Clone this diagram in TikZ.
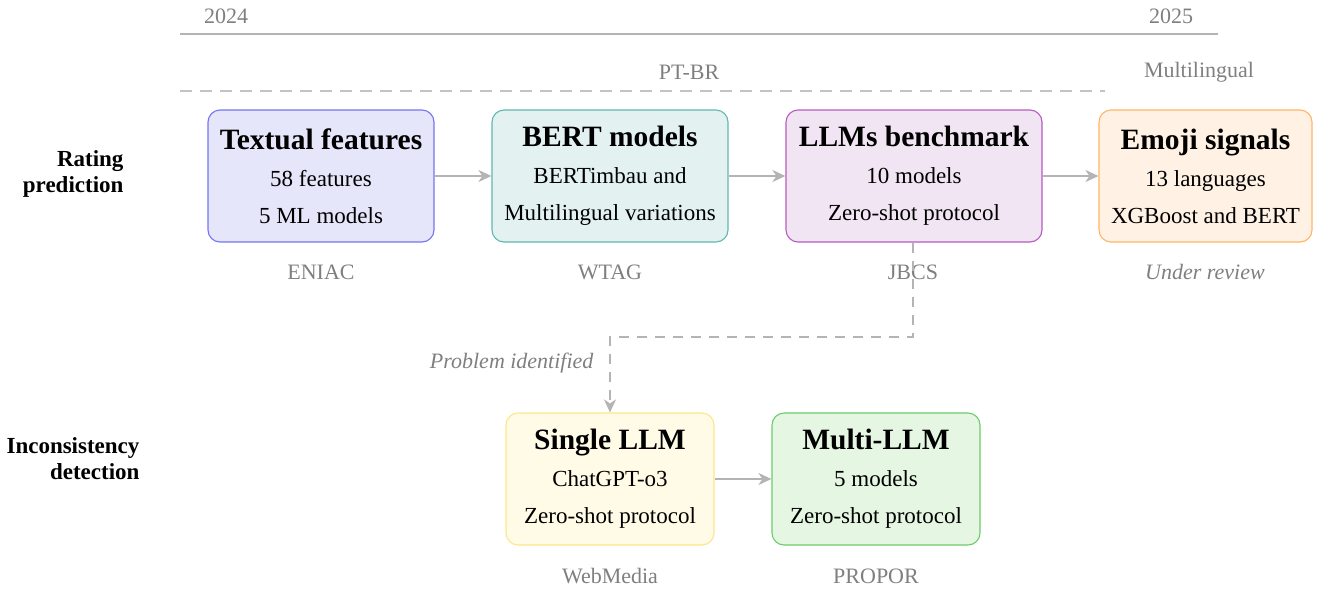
\documentclass[tikz,border=0pt]{standalone}
\usepackage{fontspec}
\setmainfont{Liberation Serif}
\usetikzlibrary{arrows.meta}
\definecolor{linegray}{HTML}{B4B4B4}
\definecolor{txtgray}{HTML}{7F7F7F}
\definecolor{tfFill}{HTML}{E6E6FA}\definecolor{tfDraw}{HTML}{7373F5}
\definecolor{btFill}{HTML}{E3F1F1}\definecolor{btDraw}{HTML}{5FB8B4}
\definecolor{lmFill}{HTML}{F2E5F3}\definecolor{lmDraw}{HTML}{B55CC2}
\definecolor{emFill}{HTML}{FFF1E3}\definecolor{emDraw}{HTML}{FFB465}
\definecolor{slFill}{HTML}{FFFBE6}\definecolor{slDraw}{HTML}{FDE68A}
\definecolor{mlFill}{HTML}{E5F6E3}\definecolor{mlDraw}{HTML}{6CCB6C}
\newcommand{\ttl}[1]{{\fontsize{29.5}{37}\selectfont\bfseries #1}}
\tikzset{
  x=1pt, y=1pt,
  stagebox/.style={draw, line width=1.1pt, rounded corners=12pt, minimum height=132pt,
    inner sep=0pt, align=center, font=\fontsize{23}{37}\selectfont},
  arr/.style={draw=linegray, line width=2.3pt, -{Stealth[length=13pt,width=12pt,inset=4pt]}},
  darr/.style={draw=linegray, line width=2.6pt, dash pattern=on 10pt off 8pt, -{Stealth[length=13pt,width=12pt,inset=4pt]}},
  venue/.style={text=txtgray, font=\fontsize{22}{26}\selectfont},
  rowlabel/.style={font=\fontsize{23}{26}\selectfont\bfseries, align=right, anchor=east}
}
\begin{document}
\begin{tikzpicture}
\useasboundingbox (0,0) rectangle (1317,-590);
% timeline
\coordinate (tl0) at (180,-34);
\coordinate (tl1) at (1218,-34);
\draw[linegray, line width=2.8pt] (tl0) -- (tl1);
\node[venue] (y2024) at (226,-16) {2024};
\node[venue] (y2025) at (1171,-16) {2025};
\coordinate (dl0) at (180,-91);
\coordinate (dl1) at (1105,-91);
\draw[linegray!80, line width=1.5pt, dash pattern=on 12pt off 8pt] (dl0) -- (dl1);
\node[venue] (ptbr) at (689,-72) {PT-BR};
\node[venue] (multi) at (1199,-72) {Multilingual};
% row labels
\node[rowlabel] (rp) at (127,-174) {Rating\\prediction};
\node[rowlabel] (id) at (143,-459) {Inconsistency\\detection};
% boxes
\node[stagebox, fill=tfFill, draw=tfDraw, minimum width=226pt] (tf) at (321,-176)
  {\ttl{Textual features}\\58 features\\5 ML models};
\node[stagebox, fill=btFill, draw=btDraw, minimum width=236pt] (bert) at (610,-176)
  {\ttl{BERT models}\\BERTimbau and\\Multilingual variations};
\node[stagebox, fill=lmFill, draw=lmDraw, minimum width=256pt] (llm) at (914,-176)
  {\ttl{LLMs benchmark}\\10 models\\Zero-shot protocol};
\node[stagebox, fill=emFill, draw=emDraw, minimum width=213pt] (emoji) at (1205.5,-176)
  {\ttl{Emoji signals}\\13 languages\\XGBoost and BERT};
\node[stagebox, fill=slFill, draw=slDraw, minimum width=208pt] (single) at (610,-479)
  {\ttl{Single LLM}\\ChatGPT-o3\\Zero-shot protocol};
\node[stagebox, fill=mlFill, draw=mlDraw, minimum width=208pt] (multillm) at (876,-479)
  {\ttl{Multi-LLM}\\5 models\\Zero-shot protocol};
% venues
\node[venue] (eniac) at (321,-272) {ENIAC};
\node[venue] (wtag) at (610,-272) {WTAG};
\node[venue] (jbcs) at (913,-272) {JBCS};
\node[venue, font=\fontsize{22}{26}\selectfont\itshape] (review) at (1205,-272) {Under review};
\node[venue] (webmedia) at (610,-576) {WebMedia};
\node[venue] (propor) at (876,-576) {PROPOR};
% arrows
\draw[arr] (tf) -- (bert);
\draw[arr] (bert) -- (llm);
\draw[arr] (llm) -- (emoji);
\draw[arr] (single) -- (multillm);
\coordinate (bend) at (913,-337);
\draw[darr] (llm.south -| bend) -- (bend) -| (single.north);
\node[venue, font=\fontsize{22}{26}\selectfont\itshape, anchor=east] (prob) at (597,-363) {Problem identified};
\end{tikzpicture}
\end{document}
